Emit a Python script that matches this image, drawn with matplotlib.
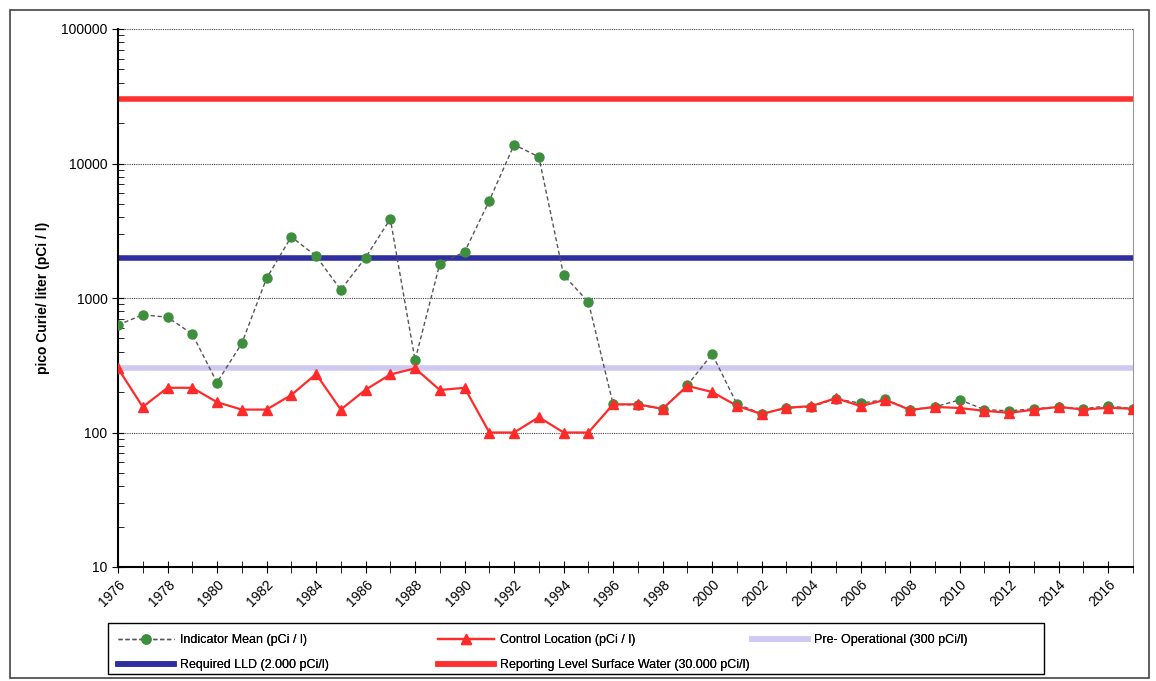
import matplotlib.pyplot as plt
from matplotlib.patches import Rectangle
from matplotlib.ticker import LogLocator, MultipleLocator, NullFormatter

plt.rcParams['font.family'] = ['Liberation Sans', 'DejaVu Sans']

years = list(range(1976, 2018))
indicator = [630, 750, 720, 540, 235, 460, 1400, 2850, 2050, 1150,
             2000, 3870, 345, 1800, 2200, 5300, 13800, 11200, 1480, 935,
             162, 160, 150, 225, 383, 163, 138, 152, 155, 178,
             165, 176, 148, 155, 175, 148, 145, 150, 155, 150,
             158, 150]
control = [300, 155, 215, 215, 168, 148, 148, 190, 272, 148,
           208, 270, 300, 207, 215, 100, 100, 130, 100, 100,
           162, 162, 150, 222, 200, 158, 137, 153, 157, 180,
           157, 175, 147, 155, 152, 145, 140, 148, 155, 148,
           153, 150]
pre_operational = 300
required_lld = 2000
reporting_level = 30000

W, H = 1156, 681
fig = plt.figure(figsize=(W / 100, H / 100), dpi=100)
fig.patches.append(Rectangle((0.009, 0.005), 0.985, 0.981, transform=fig.transFigure,
                             fill=False, edgecolor='#444444', lw=1.2))
ax = fig.add_axes([118 / W, 1 - 567 / H, (1133 - 118) / W, (567 - 29) / H])

h_rep = ax.axhline(reporting_level, color='#ff3030', lw=4, zorder=2)
h_lld = ax.axhline(required_lld, color='#2e2ea0', lw=4, zorder=2)
h_pre = ax.axhline(pre_operational, color='#cfc8f2', lw=4, zorder=2)
h_ind, = ax.plot(years, indicator, ls=(0, (3, 2)), color='#555555', lw=1,
                 marker='o', ms=6.5, mfc='#3d8f3d', mec='#3d8f3d', zorder=3)
h_ctl, = ax.plot(years, control, color='#ff2a2a', lw=1.6,
                 marker='^', ms=7, mfc='#ff2a2a', mec='#ff2a2a', zorder=4)

ax.set_yscale('log')
ax.set_ylim(10, 100000)
ax.set_xlim(1976, 2017)
ax.yaxis.set_minor_locator(LogLocator(base=10, subs=range(2, 10)))
ax.yaxis.set_minor_formatter(NullFormatter())
ax.set_yticks([10, 100, 1000, 10000, 100000])
ax.set_yticklabels(['10', '100', '1000', '10000', '100000'])
ax.set_xticks(range(1976, 2017, 2))
ax.set_xticklabels([str(y) for y in range(1976, 2017, 2)], rotation=45,
                   ha='right', rotation_mode='anchor', fontsize=10)
ax.xaxis.set_minor_locator(MultipleLocator(1))
ax.tick_params(axis='y', labelsize=10, direction='inout', length=8)
ax.tick_params(axis='y', which='minor', direction='in', length=4)
ax.tick_params(axis='x', which='both', direction='inout', length=8)

ax.grid(True, axis='y', which='major', color='#444444', ls=(0, (1, 1)), lw=0.8)
ax.spines['top'].set_visible(False)
ax.spines['right'].set_color('#999999')
ax.spines['right'].set_linestyle((0, (1, 1)))
ax.spines['left'].set_linewidth(1.5)
ax.spines['bottom'].set_linewidth(1.5)
ax.set_ylabel('pico Curie/ liter (pCi / l)', fontsize=10, fontweight='bold', labelpad=8)

# legend: one frameless column per group, inside a shared box
fig.patches.append(Rectangle((108 / W, 1 - 674 / H), (1044 - 108) / W, 51 / H,
                             transform=fig.transFigure, fill=False,
                             edgecolor='black', lw=1.0))
columns = [
    (108, [h_ind, h_lld], ['Indicator Mean (pCi / l)', 'Required LLD (2.000 pCi/l)']),
    (428, [h_ctl, h_rep], ['Control Location (pCi / l)',
                           'Reporting Level Surface Water (30.000 pCi/l)']),
    (742, [h_pre], ['Pre- Operational (300 pCi/l)']),
]
for x0, hs, ls in columns:
    leg = fig.legend(hs, ls, loc='upper left', bbox_to_anchor=(x0 / W, 1 - 624 / H),
                     fontsize=9, frameon=False, handlelength=4.5, handletextpad=0.5,
                     borderpad=0.3, labelspacing=1.05)
    fig.add_artist(leg)

fig.savefig('out.png', dpi=100)
